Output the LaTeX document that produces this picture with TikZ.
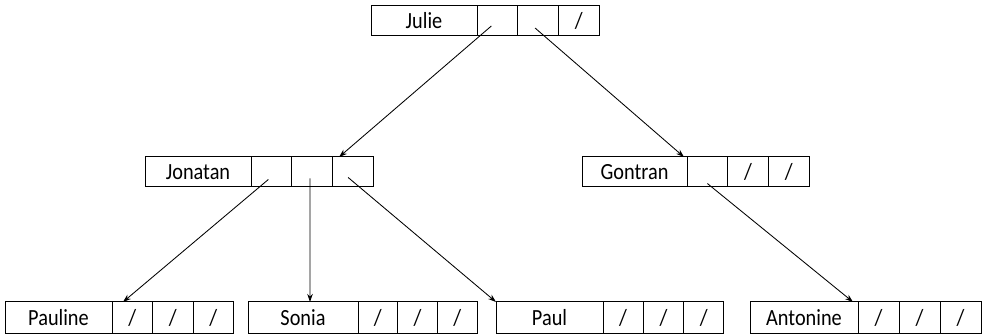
\documentclass[tikz,border=0pt]{standalone}
\usepackage{fontspec}
\usepackage{graphicx}
\setmainfont{Carlito}
\usetikzlibrary{arrows.meta,calc}
\def\rowh{31}
\tikzset{
  box/.style={draw, line width=1pt, minimum height=\rowh, inner sep=0pt, outer sep=0pt,
    text height=15.5pt, text depth=0pt, anchor=north west, font=\fontsize{20.3}{24}\selectfont},
  ptr/.style={line width=0.85pt, -{Stealth[length=8pt,width=5.5pt]}}
}
\newcommand\tx[1]{\scalebox{1}[1.14]{#1}}
% id, x, y, name width, cell width, text, c1, c2, c3
\newcommand\mkrecord[9]{%
  \node[box, minimum width=#4] (#1) at (#2,#3) {\tx{#6}};
  \node[box, minimum width=#5] (#1a) at (#1.north east) {\tx{#7}};
  \node[box, minimum width=#5] (#1b) at (#1a.north east) {\tx{#8}};
  \node[box, minimum width=#5] (#1c) at (#1b.north east) {\tx{#9}};
}
\begin{document}
\begin{tikzpicture}[x=1pt,y=-1pt]
\useasboundingbox (0,0) rectangle (982,336);
\def\rowh{30}
\mkrecord{julie}{371}{5.5}{106}{40.7}{Julie}{}{}{/}
\mkrecord{jonatan}{145}{157}{106}{40.7}{Jonatan}{}{}{}
\mkrecord{gontran}{582}{157}{105}{40.7}{Gontran}{}{/}{/}
\def\rowh{32}
\mkrecord{pauline}{5}{302}{107}{40.5}{Pauline}{/}{/}{/}
\mkrecord{sonia}{248}{302}{110}{39.7}{Sonia}{/}{/}{/}
\mkrecord{paul}{496}{302}{107}{40.3}{Paul}{/}{/}{/}
\mkrecord{antonine}{750}{302}{108}{41}{Antonine}{/}{/}{/}
\draw[ptr] ($(juliea.center)+(-6,5.5)$) -- ($(jonatanc.north west)+(6.7,0)$);
\draw[ptr] ($(julieb.center)+(-3,7.5)$) -- ($(gontran.north east)+(-3,0)$);
\draw[ptr] ($(jonatana.center)+(-3,7.5)$) -- ($(paulinea.north west)+(11,0)$);
\draw[ptr] ($(jonatanb.center)+(-2,6.5)$) -- ($(sonia.north)+(7,0)$);
\draw[ptr] ($(jonatanc.center)+(-4.6,5.5)$) -- (paul.north west);
\draw[ptr] ($(gontrana.center)+(0,11.5)$) -- ($(antoninea.north west)+(-5,0)$);
\end{tikzpicture}
\end{document}
